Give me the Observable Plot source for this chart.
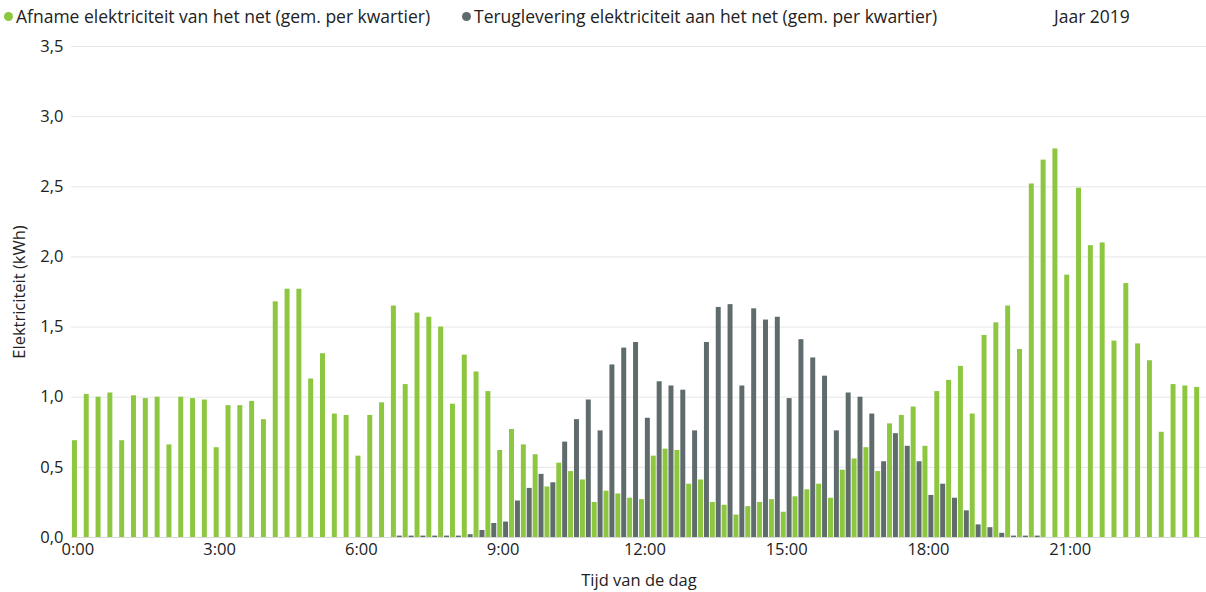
<!DOCTYPE html>
<html>
<head>
<meta charset="utf-8">
<script src="https://cdn.jsdelivr.net/npm/d3@7"></script>
<script src="https://cdn.jsdelivr.net/npm/@observablehq/plot@0.6"></script>
<style>
  body { margin: 0; background: #fff; font-family: "Open Sans", sans-serif; }
  #legend { height: 32px; position: relative; font-size: 17.5px; color: #222; }
  #legend span.item { position: absolute; top: 4px; white-space: nowrap; }
  .dot { display: inline-block; width: 9px; height: 9px; border-radius: 50%; margin-right: 3px; vertical-align: 2px; }
</style>
</head>
<body>
<div id="legend">
  <span class="item" style="left:4px"><span class="dot" style="background:#8dc63f"></span>Afname elektriciteit van het net (gem. per kwartier)</span>
  <span class="item" style="left:462px"><span class="dot" style="background:#5f6b6d"></span>Teruglevering elektriciteit aan het net (gem. per kwartier)</span>
  <span class="item" style="left:1054px">Jaar 2019</span>
</div>
<div id="chart"></div>
<script>
// kwartieren van de dag
const slots = d3.range(96).map(i => `${Math.floor(i / 4)}:${String((i % 4) * 15).padStart(2, "0")}`);
const hourTicks = ["0:00", "3:00", "6:00", "9:00", "12:00", "15:00", "18:00", "21:00"];
const yTicks = [0, 0.5, 1, 1.5, 2, 2.5, 3, 3.5];

// afname (kWh)
const afname = [
  0.69, 1.02, 1.00, 1.03, 0.69, 1.01, 0.99, 1.00, 0.66, 1.00, 0.99, 0.98,
  0.64, 0.94, 0.94, 0.97, 0.84, 1.68, 1.77, 1.77, 1.13, 1.31, 0.88, 0.87,
  0.58, 0.87, 0.96, 1.65, 1.09, 1.60, 1.57, 1.50, 0.95, 1.30, 1.18, 1.04,
  0.62, 0.77, 0.66, 0.59, 0.36, 0.53, 0.47, 0.41, 0.25, 0.33, 0.31, 0.28,
  0.27, 0.58, 0.63, 0.62, 0.38, 0.41, 0.25, 0.23, 0.16, 0.22, 0.25, 0.27,
  0.18, 0.29, 0.34, 0.38, 0.28, 0.48, 0.56, 0.64, 0.47, 0.81, 0.87, 0.93,
  0.65, 1.04, 1.12, 1.22, 0.88, 1.44, 1.53, 1.65, 1.34, 2.52, 2.69, 2.77,
  1.87, 2.49, 2.08, 2.10, 1.40, 1.81, 1.38, 1.26, 0.75, 1.09, 1.08, 1.07
];
// teruglevering (kWh)
const teruglevering = [
  0, 0, 0, 0, 0, 0, 0, 0, 0, 0, 0, 0,
  0, 0, 0, 0, 0, 0, 0, 0, 0, 0, 0, 0,
  0, 0, 0, 0.01, 0.01, 0.01, 0.01, 0.01, 0.01, 0.02, 0.05, 0.10,
  0.11, 0.26, 0.35, 0.45, 0.39, 0.68, 0.84, 0.98, 0.76, 1.23, 1.35, 1.39,
  0.85, 1.11, 1.08, 1.05, 0.76, 1.39, 1.64, 1.66, 1.08, 1.63, 1.55, 1.57,
  0.99, 1.41, 1.28, 1.15, 0.76, 1.03, 1.00, 0.88, 0.54, 0.74, 0.65, 0.54,
  0.30, 0.38, 0.28, 0.19, 0.09, 0.07, 0.03, 0.01, 0.01, 0.01, 0, 0,
  0, 0, 0, 0, 0, 0, 0, 0, 0, 0, 0, 0
];

const rows = slots.map((s, i) => ({slot: s, afname: afname[i], terug: teruglevering[i]}));

const chart = Plot.plot({
  width: 1206,
  height: 560,
  marginLeft: 71,
  marginRight: 0,
  marginTop: 14,
  marginBottom: 55,
  style: {fontFamily: "Open Sans, sans-serif", fontSize: "16.5px", color: "#222"},
  x: {domain: slots, padding: 0.08, ticks: hourTicks, tickSize: 0, tickPadding: 6, label: "Tijd van de dag", labelAnchor: "center", labelOffset: 48},
  y: {domain: [0, 3.5], ticks: yTicks, tickSize: 0, tickPadding: 8, tickFormat: d => d.toFixed(1).replace(".", ","), label: "Elektriciteit (kWh)", labelAnchor: "center", labelArrow: "none", labelOffset: 58},
  marks: [
    Plot.ruleY(yTicks, {stroke: "#e6e6e6"}),
    Plot.barY(rows, {x: "slot", y: "afname", fill: "#8dc63f", insetRight: 5.9}),
    Plot.barY(rows, {x: "slot", y: "terug", fill: "#5f6b6d", insetLeft: 5.9}),
    Plot.ruleY([0], {stroke: "#d9d9d9"})
  ]
});
document.getElementById("chart").append(chart);
</script>
</body>
</html>
